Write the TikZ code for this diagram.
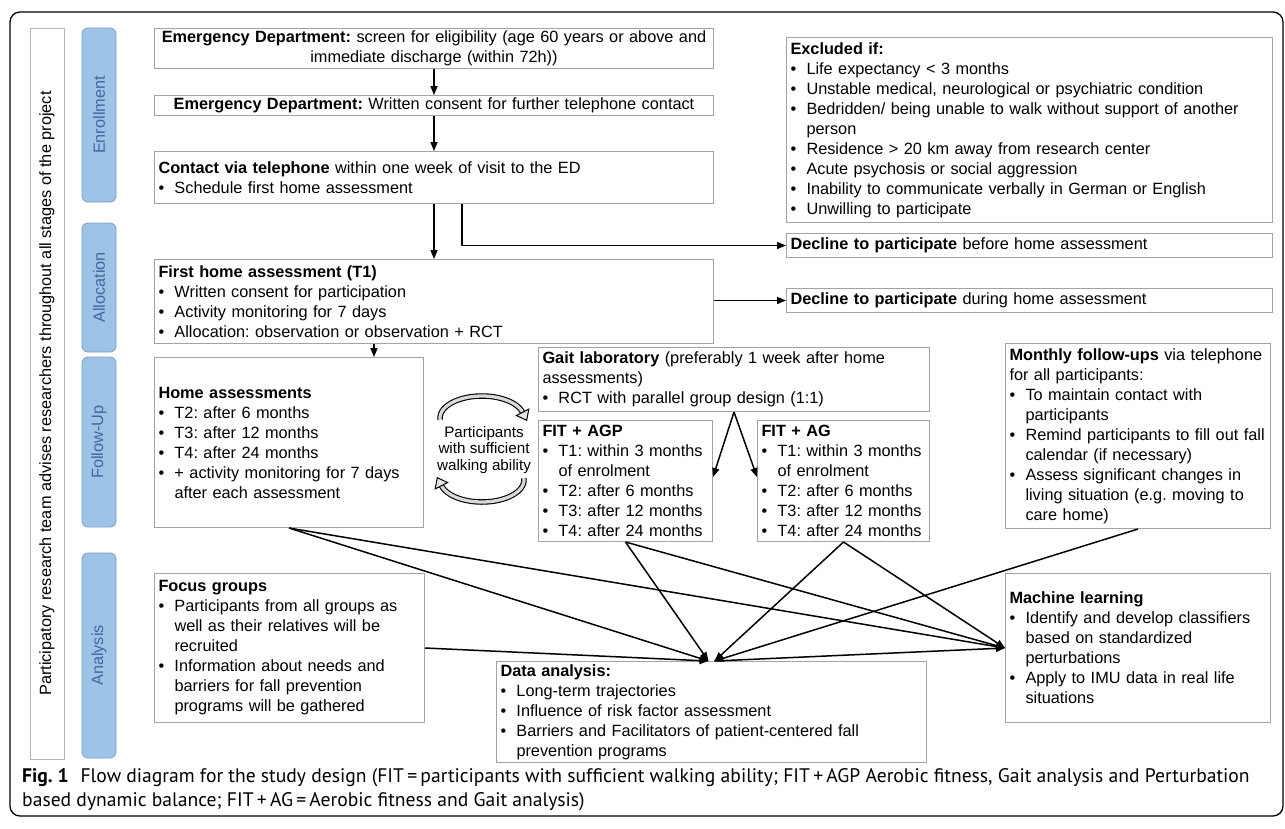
\documentclass[tikz,border=0pt]{standalone}
\usepackage{fontspec}
\setmainfont{Liberation Sans}
\newfontfamily\capfont{PT Sans}
\usetikzlibrary{arrows.meta}
\definecolor{boxgray}{HTML}{A3A3A3}
\definecolor{sidegray}{HTML}{B5B5B5}
\definecolor{phasefill}{HTML}{9DC3E6}
\definecolor{phasedraw}{HTML}{7F9EC8}
\definecolor{phasetext}{HTML}{41689E}
\newcommand\bl{\makebox[16pt][l]{\textbullet}}
\newcommand\ct{\hspace*{16pt}}
\newcommand\myfs{\fontsize{16.3pt}{20pt}\selectfont}
\frenchspacing
\begin{document}
\begin{tikzpicture}[x=1pt,y=-1pt,
  box/.style={draw=boxgray, line width=1pt, fill=white, inner xsep=4pt, inner ysep=1pt,
    align=left, anchor=north west, font=\myfs},
  cbox/.style={box, align=center},
  phase/.style={draw=phasedraw, fill=phasefill, rounded corners=6pt, line width=0.8pt,
    rotate=90, text=phasetext, font=\myfs, minimum height=34pt, anchor=center, inner sep=0pt},
  side/.style={draw=sidegray, line width=0.8pt, rotate=90, font=\myfs, minimum height=34pt,
    anchor=center, inner sep=0pt},
  arr/.style={line width=1.5pt, -{Triangle[length=9pt,width=7pt]}},
  capt/.style={anchor=base west, inner sep=0pt, font=\capfont\fontsize{19.6pt}{24pt}\selectfont}
]
\useasboundingbox (0,0) rectangle (1285,828);
\draw[line width=1.3pt, rounded corners=10pt] (10,12) rectangle (1283,816);

% left column
\node[side, minimum width=731pt] (team) at (47,393.5) {Participatory research team advises researchers throughout all stages of the project};
\node[phase, minimum width=174pt] (penr) at (99,115) {Enrollment};
\node[phase, minimum width=129pt] (palloc) at (99,287.5) {Allocation};
\node[phase, minimum width=170pt] (pfol) at (99,442) {Follow-Up};
\node[phase, minimum width=205pt] (pana) at (99,655.5) {Analysis};

% enrollment
\node[cbox, minimum width=559pt, minimum height=40pt, text width=551pt] (ed) at (154,28)
  {\textbf{Emergency Department:} screen for eligibility (age 60 years or above and\\ immediate discharge (within 72h))};
\node[cbox, minimum width=559pt, minimum height=20pt, text width=551pt] (consent) at (154,95)
  {\textbf{Emergency Department:} Written consent for further telephone contact};
\node[box, minimum width=559pt, minimum height=52pt, text width=551pt] (contact) at (154,151)
  {\textbf{Contact via telephone} within one week of visit to the ED\\ \bl Schedule first home assessment};
\node[box, minimum width=486pt, minimum height=185pt, text width=478pt] (excl) at (786,37)
  {\textbf{Excluded if:}\\
   \bl Life expectancy < 3 months\\
   \bl Unstable medical, neurological or psychiatric condition\\
   \bl Bedridden/ being unable to walk without support of another\\
   \ct person\\
   \bl Residence > 20 km away from research center\\
   \bl Acute psychosis or social aggression\\
   \bl Inability to communicate verbally in German or English\\
   \bl Unwilling to participate};
\node[box, minimum width=486pt, minimum height=24pt, text width=478pt] (decl1) at (786,233)
  {\textbf{Decline to participate} before home assessment};

% allocation
\node[box, minimum width=559pt, minimum height=84pt, text width=551pt] (fha) at (154,259)
  {\textbf{First home assessment (T1)}\\
   \bl Written consent for participation\\
   \bl Activity monitoring for 7 days\\
   \bl Allocation: observation or observation + RCT};
\node[box, minimum width=486pt, minimum height=24pt, text width=478pt] (decl2) at (786,288)
  {\textbf{Decline to participate} during home assessment};

% follow-up
\node[box, minimum width=269pt, minimum height=170pt, text width=261pt] (home) at (154,357)
  {\textbf{Home assessments}\\
   \bl T2: after 6 months\\
   \bl T3: after 12 months\\
   \bl T4: after 24 months\\
   \bl + activity monitoring for 7 days\\
   \ct after each assessment};
\node[box, minimum width=391pt, minimum height=64pt, text width=383pt] (gait) at (538,347)
  {\textbf{Gait laboratory} (preferably 1 week after home\\
   assessments)\\
   \bl RCT with parallel group design (1:1)};
\node[box, minimum width=174pt, minimum height=121pt, text width=166pt] (fitagp) at (538,420)
  {\textbf{FIT + AGP}\\
   \bl T1: within 3 months\\
   \ct of enrolment\\
   \bl T2: after 6 months\\
   \bl T3: after 12 months\\
   \bl T4: after 24 months};
\node[box, minimum width=172pt, minimum height=121pt, text width=164pt] (fitag) at (757,420)
  {\textbf{FIT + AG}\\
   \bl T1: within 3 months\\
   \ct of enrolment\\
   \bl T2: after 6 months\\
   \bl T3: after 12 months\\
   \bl T4: after 24 months};
\node[box, minimum width=265pt, minimum height=185pt, text width=257pt] (monthly) at (1005,343)
  {\textbf{Monthly follow-ups} via telephone\\
   for all participants:\\
   \bl To maintain contact with\\
   \ct participants\\
   \bl Remind participants to fill out fall\\
   \ct calendar (if necessary)\\
   \bl Assess significant changes in\\
   \ct living situation (e.g. moving to\\
   \ct care home)};
\node[align=center, font=\fontsize{15.2pt}{16.5pt}\selectfont, inner sep=0pt] (walk) at (484,450)
  {Participants\\ with sufficient\\ walking ability};

% analysis
\node[box, minimum width=270pt, minimum height=149pt, text width=262pt] (focus) at (154,573)
  {\textbf{Focus groups}\\
   \bl Participants from all groups as\\
   \ct well as their relatives will be\\
   \ct recruited\\
   \bl Information about needs and\\
   \ct barriers for fall prevention\\
   \ct programs will be gathered};
\node[box, minimum width=430pt, minimum height=101pt, text width=422pt] (da) at (496,661)
  {\textbf{Data analysis:}\\
   \bl Long-term trajectories\\
   \bl Influence of risk factor assessment\\
   \bl Barriers and Facilitators of patient-centered fall\\
   \ct prevention programs};
\node[box, minimum width=265pt, minimum height=149pt, text width=257pt] (ml) at (1005,573)
  {\textbf{Machine learning}\\
   \bl Identify and develop classifiers\\
   \ct based on standardized\\
   \ct perturbations\\
   \bl Apply to IMU data in real life\\
   \ct situations};

% caption
\node[capt] (cap1) at (22,782)
  {\textbf{Fig. 1}\hspace{0.6em}Flow diagram for the study design (FIT\,=\,participants with sufficient walking ability; FIT\,+\,AGP Aerobic fitness, Gait analysis and Perturbation};
\node[capt] (cap2) at (22,806)
  {based dynamic balance; FIT\,+\,AG\,=\,Aerobic fitness and Gait analysis)};

% connectors
\draw[arr] (ed.south) -- (consent.north);
\draw[arr] (consent.south) -- (contact.north);
\draw[arr] (contact.south) -- (fha.north);
\draw[arr] ([xshift=28pt]contact.south) |- (decl1.west);
\draw[arr] (decl2.west -| fha.east) -- (decl2.west);
\draw[arr] ([xshift=-60pt]fha.south) -- ([xshift=-60pt]fha.south |- home.north);
\draw[arr] (gait.south) -- ([yshift=4pt]fitagp.east);
\draw[arr] (gait.south) -- ([yshift=4pt]fitag.west);

\draw[arr] (home.south) -- ([xshift=-3pt]da.north);
\draw[arr] (home.south) -- (ml.west);
\draw[arr] (focus.east) -- ([xshift=-3pt]da.north);
\draw[arr] (fitagp.south) -- ([xshift=-3pt]da.north);
\draw[arr] (fitagp.south) -- (ml.west);
\draw[arr] (fitag.south) -- ([xshift=3pt]da.north);
\draw[arr] (fitag.south) -- (ml.west);
\draw[arr] (monthly.south) -- ([xshift=3pt]da.north);
\draw[arr] ([xshift=3pt]da.north) -- (ml.west);

% circular arrows
\draw[line width=5.5pt] plot[domain=175:345, samples=40] ({482+42*cos(\x)},{418+22*sin(\x)});
\draw[line width=3.3pt, color=gray!30] plot[domain=175:345, samples=40] ({482+42*cos(\x)},{418+22*sin(\x)});
\filldraw[fill=gray!20, draw=black, line width=1pt] (516.4,415.5) -- (526.7,420.3) -- (528.8,409.1) -- cycle;
\draw[line width=5.5pt] plot[domain=-5:165, samples=40] ({482+42*cos(\x)},{480+22*sin(\x)});
\draw[line width=3.3pt, color=gray!30] plot[domain=-5:165, samples=40] ({482+42*cos(\x)},{480+22*sin(\x)});
\filldraw[fill=gray!20, draw=black, line width=1pt] (447.6,482.5) -- (437.3,477.7) -- (435.2,488.9) -- cycle;
\end{tikzpicture}
\end{document}
